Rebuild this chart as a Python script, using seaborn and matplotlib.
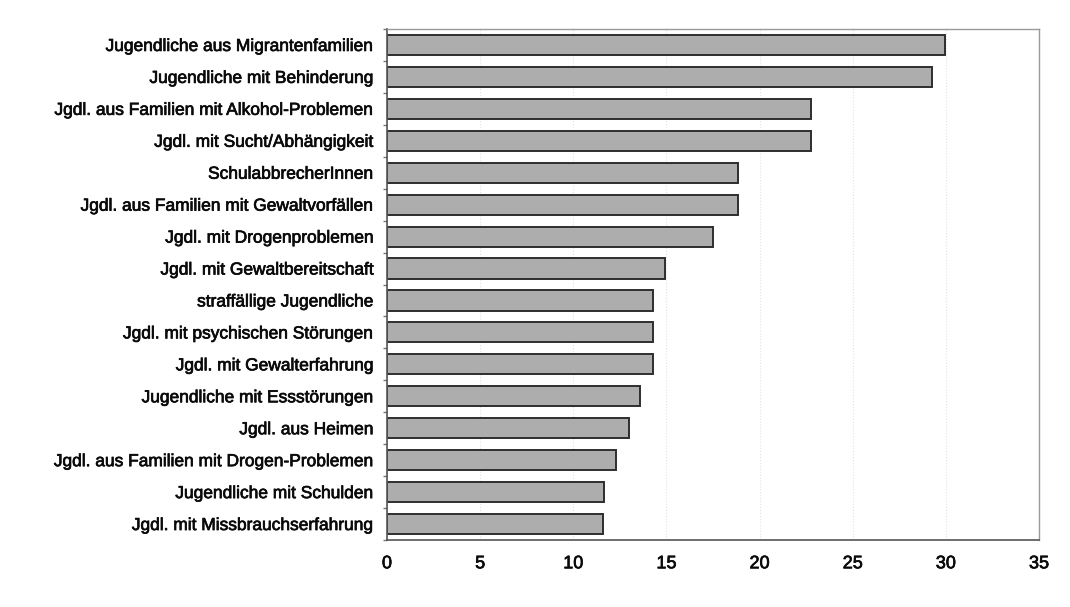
import matplotlib
matplotlib.use("Agg")
import matplotlib.pyplot as plt
import matplotlib.patheffects as pe
import seaborn as sns
import pandas as pd
import numpy as np

categories = [
  "Jugendliche aus Migrantenfamilien",
  "Jugendliche mit Behinderung",
  "Jgdl. aus Familien mit Alkohol-Problemen",
  "Jgdl. mit Sucht/Abhängigkeit",
  "SchulabbrecherInnen",
  "Jgdl. aus Familien mit Gewaltvorfällen",
  "Jgdl. mit Drogenproblemen",
  "Jgdl. mit Gewaltbereitschaft",
  "straffällige Jugendliche",
  "Jgdl. mit psychischen Störungen",
  "Jgdl. mit Gewalterfahrung",
  "Jugendliche mit Essstörungen",
  "Jgdl. aus Heimen",
  "Jgdl. aus Familien mit Drogen-Problemen",
  "Jugendliche mit Schulden",
  "Jgdl. mit Missbrauchserfahrung",
]
values = [29.95, 29.27, 22.75, 22.76, 18.85, 18.84, 17.5, 14.92,
          14.28, 14.28, 14.3, 13.6, 12.97, 12.3, 11.67, 11.62]
xticks = [0, 5, 10, 15, 20, 25, 30, 35]

sns.set_theme(style="white")
plt.rcParams['font.family'] = ['Liberation Sans', 'DejaVu Sans']

df = pd.DataFrame({"Gruppe": categories, "Wert": values})

fig = plt.figure(figsize=(10.7, 6.07), dpi=100)
ax = fig.add_axes([387 / 1070, 1 - 540 / 607, (1039 - 387) / 1070, (540 - 29) / 607])

sns.barplot(data=df, y="Gruppe", x="Wert", order=categories, orient="h",
            color="#adadad", saturation=1, width=0.63,
            edgecolor="#2e2e2e", linewidth=1.4, ax=ax)

ax.set_xlim(0, 35)
ax.set_ylim(len(categories) - 0.5, -0.5)
ax.set_xticks(xticks)
ax.set_xticklabels([str(t) for t in xticks], fontsize=13, color="#0a0a0a")
ax.tick_params(axis="y", labelsize=12.5, labelcolor="#0a0a0a", length=0, pad=9.5)
ax.tick_params(axis="x", length=0, pad=11)
ax.set_yticks(np.arange(-0.5, len(categories), 1), minor=True)
ax.tick_params(axis="y", which="minor", left=True, length=3, color="#777777")
ax.set_xlabel("")
ax.set_ylabel("")

# scanned text looks a little heavier
thick = [pe.withStroke(linewidth=0.5, foreground="#0a0a0a")]
for lbl in ax.get_xticklabels() + ax.get_yticklabels():
  lbl.set_path_effects(thick)

ax.xaxis.grid(True, color="#e2e2e2", linestyle=":", linewidth=0.8)
ax.set_axisbelow(True)
for side in ["top", "right"]:
  ax.spines[side].set_color("#9a9a9a")
  ax.spines[side].set_linewidth(1.0)
for side in ["left", "bottom"]:
  ax.spines[side].set_color("#555555")
  ax.spines[side].set_linewidth(1.2)

fig.savefig("out.png", dpi=100)
